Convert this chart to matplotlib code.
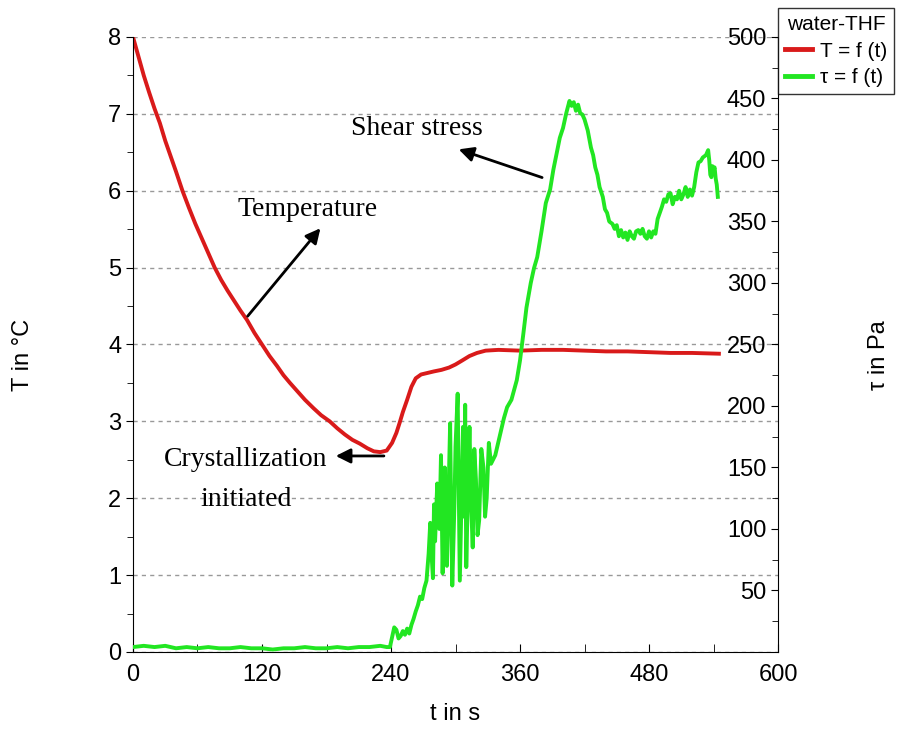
import numpy as np
import matplotlib
matplotlib.use('Agg')
import matplotlib.pyplot as plt
from matplotlib.ticker import MultipleLocator

# Temperature T (degC) vs time t (s)
t_temp = [0, 5, 10, 15, 20, 25, 30, 35, 40, 46, 52, 58, 64, 70, 76, 82, 88, 94, 100,
          106, 113, 120, 127, 134, 140, 146, 153, 160, 168, 175, 183, 190, 197, 204,
          211, 218, 224, 230, 236, 241, 245, 248, 251, 255, 259, 263, 268, 274, 280,
          287, 294, 300, 306, 313, 320, 328, 340, 360, 380, 400, 420, 440, 460, 480,
          500, 520, 545]
temp = [8.0, 7.75, 7.5, 7.28, 7.07, 6.88, 6.65, 6.45, 6.25, 6.0, 5.78, 5.57, 5.38,
        5.19, 5.0, 4.84, 4.70, 4.57, 4.44, 4.32, 4.15, 4.0, 3.85, 3.72, 3.6, 3.5, 3.39,
        3.28, 3.17, 3.08, 3.0, 2.91, 2.83, 2.76, 2.71, 2.65, 2.61, 2.60, 2.62, 2.72,
        2.85, 2.98, 3.12, 3.28, 3.45, 3.56, 3.61, 3.63, 3.65, 3.67, 3.70, 3.74, 3.79,
        3.85, 3.89, 3.92, 3.93, 3.92, 3.93, 3.93, 3.92, 3.91, 3.91, 3.90, 3.89, 3.89,
        3.88]

# Shear stress tau (Pa) vs time t (s)
t_tau = [0, 10, 20, 30, 40, 50, 60, 70, 80, 90, 100, 110, 120, 130, 140, 150, 160,
         170, 180, 190, 200, 210, 220, 230, 236, 239, 241, 243, 245, 247, 249, 251,
         253, 255, 257, 259, 261, 263, 265, 267, 269, 271, 273, 275, 276.5, 278, 279,
         280, 281, 283, 285, 286.5, 288, 290, 291, 292, 294, 295, 296, 297, 299, 300,
         302, 303, 304, 306, 307, 308, 309, 310, 312, 313, 314.5, 316, 317.5, 319,
         320.5, 322, 324, 326, 327.5, 329, 331, 333, 337, 341, 345, 348, 352,
         357, 360, 363, 366, 370, 373, 376, 380, 384, 388, 391, 394, 397, 400, 403,
         406, 408, 410, 412, 414, 416, 418, 420, 423, 426, 428, 430, 432, 434, 437,
         439, 441, 443, 446, 448, 450, 452, 454, 456, 458, 460, 462, 464, 466, 468,
         470, 472, 474, 476, 478, 480, 482, 484, 486, 488, 490, 492, 494, 496, 498,
         500, 502, 504, 506, 508, 510, 512, 514, 516, 518, 520, 522, 524, 526, 528,
         530, 533, 535, 536, 537, 538, 539, 540, 541, 542, 543, 544]
tau = [4, 5, 4, 5, 3, 4, 3, 4, 3, 3, 4, 3, 3, 2, 3, 3, 4, 3, 3, 4, 3, 4, 4, 5, 4, 4,
       12, 20, 18, 11, 13, 17, 14, 19, 15, 22, 27, 33, 38, 45, 43, 52, 58, 80, 105, 75,
       60, 120, 90, 137, 100, 160, 64, 150, 95, 70, 150, 186, 110, 54, 120, 167,
       210, 130, 58, 140, 183, 110, 201, 69, 150, 183, 120, 85, 165, 140,
       95, 107, 165, 150, 110, 125, 170, 153, 160, 175, 190, 199, 205, 221, 237,
       258, 280, 300, 312, 321, 342, 365, 376, 392, 405, 418, 426, 438, 448, 444, 447,
       440, 445, 438, 437, 433, 424, 410, 404, 394, 388, 378, 370, 360, 357, 350, 348,
       344, 347, 338, 343, 337, 341, 335, 342, 338, 336, 342, 343, 340, 344, 338, 336,
       342, 337, 342, 340, 352, 357, 362, 368, 366, 372, 373, 364, 370, 368, 375, 368,
       372, 378, 370, 376, 371, 378, 390, 398, 399, 402, 404, 408, 400, 388, 386, 395,
       392, 394, 385, 380, 370]

x_ticks = [0, 120, 240, 360, 480, 600]
t_ticks = [0, 1, 2, 3, 4, 5, 6, 7, 8]
tau_ticks = [50, 100, 150, 200, 250, 300, 350, 400, 450, 500]

sans = 'Liberation Sans'
serif = 'Liberation Serif'
red = '#d91a1a'
green = '#22e622'

fig = plt.figure(figsize=(8.98, 7.31), dpi=100)
ax = fig.add_axes([0.1481, 0.1081, 0.7183, 0.8413])
ax2 = ax.twinx()

ax.set_xlim(0, 600)
ax.set_ylim(0, 8)
ax2.set_ylim(0, 500)

# grid on the temperature axis
ax.set_yticks(t_ticks)
ax.yaxis.set_minor_locator(MultipleLocator(0.5))
ax.grid(axis='y', which='major', color='#999999', linestyle=(0, (3, 3)), linewidth=1)

ax.set_xticks(x_ticks)
ax.xaxis.set_minor_locator(MultipleLocator(60))
ax.tick_params(axis='x', which='both', direction='in', top=False, labelsize=17, pad=9)
ax.tick_params(axis='x', which='major', length=6)
ax.tick_params(axis='x', which='minor', length=6)
ax.tick_params(axis='y', which='both', direction='out', right=False, labelsize=17)
ax.tick_params(axis='y', which='major', length=5)
ax.tick_params(axis='y', which='minor', length=4)

for s in ['top', 'right']:
    ax.spines[s].set_visible(False)
    ax2.spines[s].set_visible(False)
ax2.spines['bottom'].set_visible(False)

# right axis drawn as a left-style axis at the right border
ax2.yaxis.set_ticks_position('left')
ax2.spines['left'].set_position(('axes', 1.0))
ax2.set_yticks(tau_ticks)
ax2.yaxis.set_minor_locator(MultipleLocator(25))
ax2.tick_params(axis='y', which='both', direction='out', labelsize=17)
ax2.tick_params(axis='y', which='major', length=5)
ax2.tick_params(axis='y', which='minor', length=4)

for lbl in ax.get_xticklabels() + ax.get_yticklabels() + ax2.get_yticklabels():
    lbl.set_family(sans)

l1, = ax.plot(t_temp, temp, color=red, linewidth=2.8, label='T = f (t)')
l2, = ax2.plot(t_tau, tau, color=green, linewidth=2.8, label='τ = f (t)')

ax.set_xlabel('t in s', family=sans, fontsize=17, labelpad=12)
ax.set_ylabel('T in °C', family=sans, fontsize=17)
ax.yaxis.set_label_coords(-0.153, 0.483)
ax2.set_ylabel('τ in Pa', family=sans, fontsize=17, rotation=90)
ax2.yaxis.set_label_coords(1.14, 0.483)

leg = ax2.legend(handles=[l1, l2], title='water-THF', loc='upper left',
                 bbox_to_anchor=(1.0, 1.047), borderaxespad=0, fancybox=False,
                 frameon=True, edgecolor='black', handlelength=1.3,
                 prop={'family': sans, 'size': 15}, borderpad=0.35,
                 labelspacing=0.35, handletextpad=0.35)
leg.get_title().set_family(sans)
leg.get_title().set_fontsize(15)
leg.get_frame().set_linewidth(1)
for h in leg.get_lines():
    h.set_linewidth(3.5)

# annotations
arrow = dict(arrowstyle='-|>', color='black', lw=2, mutation_scale=22)
ax.annotate('', xy=(176, 5.54), xytext=(105, 4.34), arrowprops=arrow)
ax.text(162, 5.75, 'Temperature', family=serif, fontsize=20, ha='center', va='center')
ax.annotate('', xy=(300.5, 6.55), xytext=(383, 6.16), arrowprops=arrow)
ax.text(264, 6.81, 'Shear stress', family=serif, fontsize=20, ha='center', va='center')
ax.annotate('', xy=(186, 2.55), xytext=(236, 2.55), arrowprops=arrow)
ax.text(105, 2.5, 'Crystallization', family=serif, fontsize=20, ha='center', va='center')
ax.text(105, 1.98, 'initiated', family=serif, fontsize=20, ha='center', va='center')

fig.savefig('out.png', dpi=100)
